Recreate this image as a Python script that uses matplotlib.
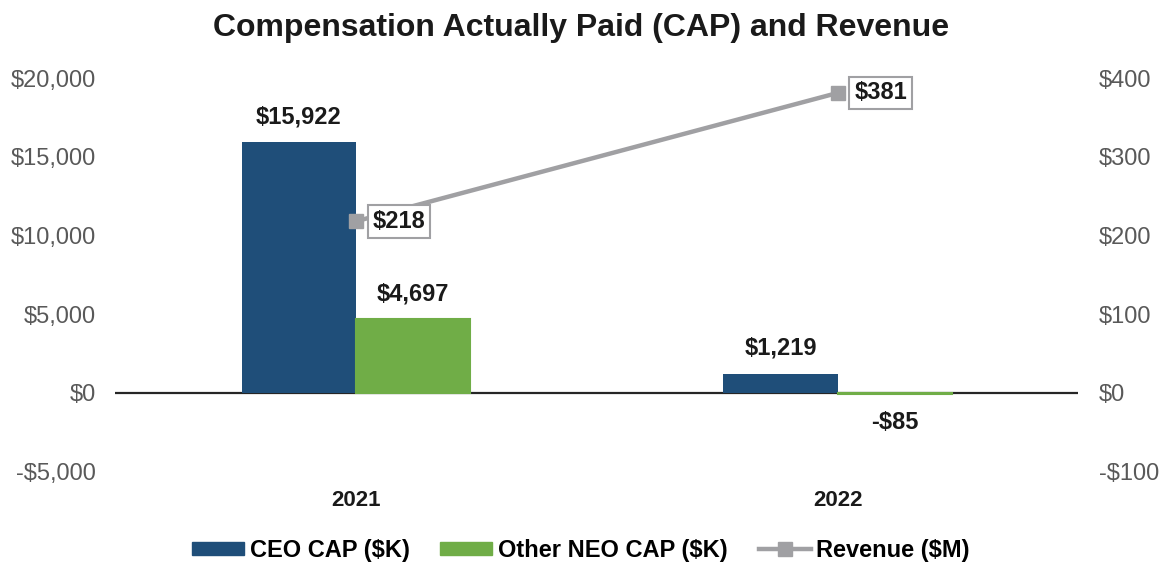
import matplotlib
matplotlib.use("Agg")
import matplotlib.pyplot as plt
from matplotlib.ticker import FuncFormatter
from matplotlib.lines import Line2D
from matplotlib.patches import Patch

plt.rcParams['font.family'] = ['Liberation Sans', 'DejaVu Sans']

years = ['2021', '2022']
ceo_cap = [15922, 1219]
neo_cap = [4697, -85]
revenue = [218, 381]

left_ticks = [-5000, 0, 5000, 10000, 15000, 20000]
right_ticks = [-100, 0, 100, 200, 300, 400]

CEO_C = '#1F4E79'
NEO_C = '#70AD47'
REV_C = '#A0A0A3'
TICK_C = '#595959'

fig = plt.figure(figsize=(11.62, 5.62), dpi=100)
ax = fig.add_axes([0.099, 0.1606, 0.829, 0.7006])
ax2 = ax.twinx()

x = list(range(len(years)))
w = 0.237
ax.axhline(0, color='#262626', lw=1.6, zorder=1)
b1 = ax.bar([i - w / 2 for i in x], ceo_cap, width=w, color=CEO_C, zorder=2)
b2 = ax.bar([i + w / 2 for i in x], neo_cap, width=w, color=NEO_C,
            edgecolor=NEO_C, linewidth=1.5, zorder=2)

ax.set_xlim(-0.5, 1.5)
ax.set_ylim(-5000, 20000)
ax2.set_ylim(-100, 400)
ax.set_yticks(left_ticks)
ax2.set_yticks(right_ticks)

def money(v, p=None):
    v = int(round(v))
    return ('-$' if v < 0 else '$') + f"{abs(v):,}"

ax.yaxis.set_major_formatter(FuncFormatter(money))
ax2.yaxis.set_major_formatter(FuncFormatter(money))
for a in (ax, ax2):
    for s in a.spines.values():
        s.set_visible(False)
    a.tick_params(axis='y', length=0, labelsize=17, labelcolor=TICK_C)
ax.tick_params(axis='y', pad=14)
ax2.tick_params(axis='y', pad=15)
ax.set_xticks(x)
ax.set_xticklabels(years, fontsize=16, fontweight='bold', color='#1a1a1a')
ax.tick_params(axis='x', length=0, pad=13)

for bars, vals in ((b1, ceo_cap), (b2, neo_cap)):
    for rect, v in zip(bars, vals):
        cx = rect.get_x() + rect.get_width() / 2
        if v >= 0:
            ax.annotate(money(v), (cx, v), xytext=(0, 10), textcoords='offset points',
                        ha='center', va='bottom', fontsize=17, fontweight='bold', color='#1a1a1a')
        else:
            ax.annotate(money(v), (cx, v), xytext=(0, -12), textcoords='offset points',
                        ha='center', va='top', fontsize=17, fontweight='bold', color='#1a1a1a')

ax2.plot(x, revenue, color=REV_C, lw=3.2, marker='s', markersize=10.5, zorder=4)
for i, v in zip(x, revenue):
    ax2.annotate(money(v), (i, v), xytext=(12, 0), textcoords='offset points',
                 ha='left', va='center', fontsize=17, fontweight='bold', color='#1a1a1a',
                 bbox=dict(boxstyle='square,pad=0.2', fc='white', ec=REV_C, lw=1.5), zorder=5)

fig.text(0.5, 0.95, 'Compensation Actually Paid (CAP) and Revenue', ha='center', va='center',
         fontsize=23, fontweight='bold', color='#1a1a1a')

handles = [Patch(color=CEO_C), Patch(color=NEO_C),
           Line2D([0], [0], color=REV_C, lw=3.2, marker='s', markersize=10.5)]
labels = ['CEO CAP ($K)', 'Other NEO CAP ($K)', 'Revenue ($M)']
fig.legend(handles, labels, loc='center', bbox_to_anchor=(0.5, 0.021), ncol=3, frameon=False,
           prop={'size': 17, 'weight': 'bold'}, handlelength=2.2, handleheight=0.5,
           columnspacing=1.3, handletextpad=0.25)

fig.savefig('out.png', dpi=100)
